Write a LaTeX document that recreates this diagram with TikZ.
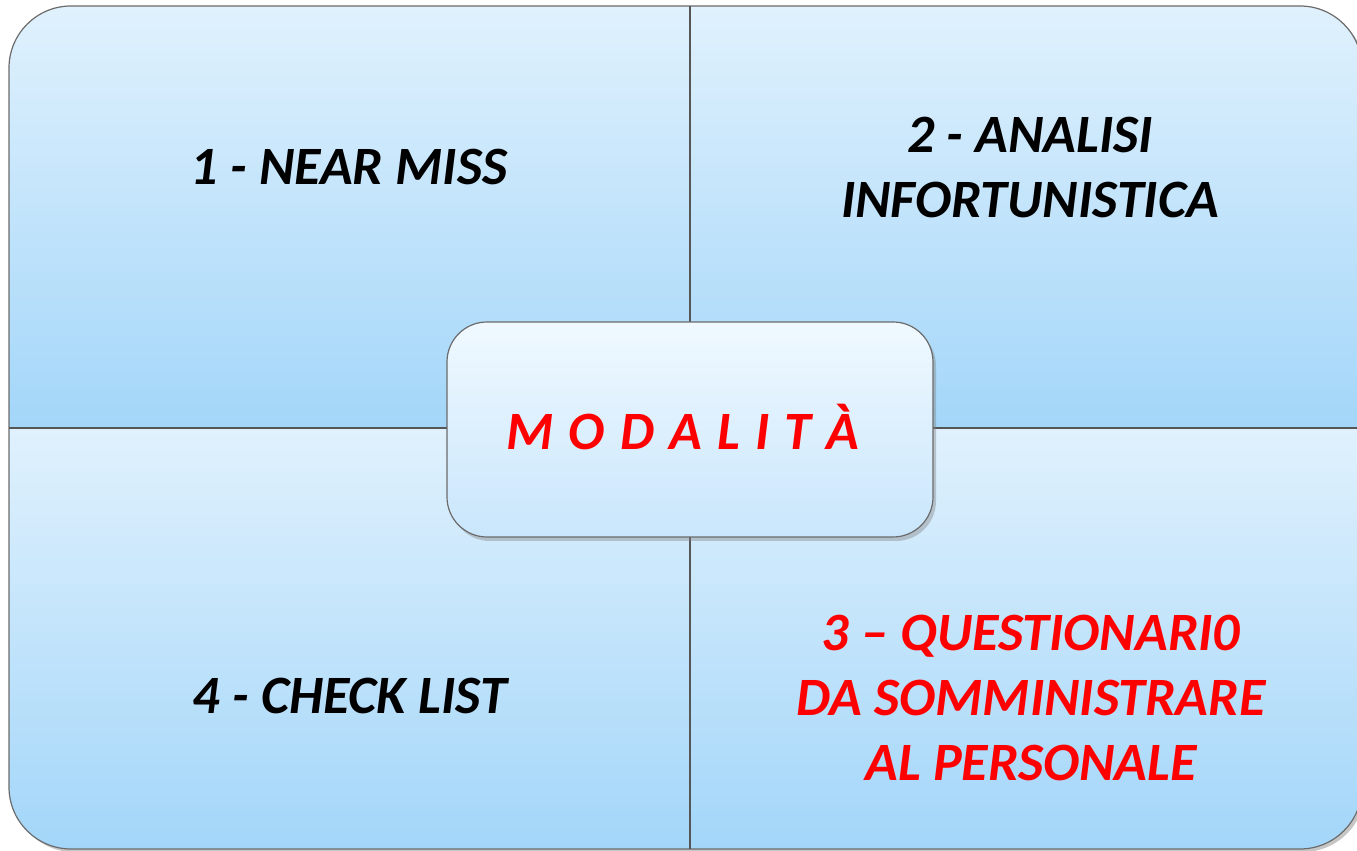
\documentclass[tikz,border=0pt]{standalone}
\usepackage{fontspec}
\setmainfont{Carlito}
\usepackage{xcolor}
\usetikzlibrary{positioning, shadows}

\definecolor{quadtop}{HTML}{E0F1FD}
\definecolor{quadbottom}{HTML}{A3D6F9}
\definecolor{boxtop}{HTML}{F0F9FF}
\definecolor{boxbottom}{HTML}{C9E6FC}
\definecolor{rimgray}{HTML}{6B6B6B}

\tikzset{
  quadrant/.style={shading=axis, top color=quadtop, bottom color=quadbottom},
  quadtext/.style={font=\fontsize{27}{32.5}\selectfont\bfseries\itshape, align=center},
}

\begin{document}
\begin{tikzpicture}[x=0.5pt, y=0.5pt, line width=0.6pt]
    \useasboundingbox (0,0) rectangle (1357,851);

    % --- Outer frame with its shadow ---
    \path[fill=white, rounded corners=31pt,
          drop shadow={shadow xshift=1.5pt, shadow yshift=-1.5pt, opacity=.45}]
        (9,2) rectangle (1362,845);

    % --- Four quadrants, each with its own gradient ---
    \begin{scope}
        \clip[rounded corners=31pt] (9,2) rectangle (1362,845);
        \shade[quadrant] (9,423) rectangle (690,845);
        \shade[quadrant] (690,423) rectangle (1362,845);
        \shade[quadrant] (9,2) rectangle (690,423);
        \shade[quadrant] (690,2) rectangle (1362,423);
    \end{scope}
    \draw[rimgray, rounded corners=31pt] (9,2) rectangle (1362,845);

    % --- Dividers ---
    \draw[rimgray!80!black] (690,2) -- (690,845);
    \draw[rimgray!80!black] (9,423) -- (1362,423);

    % --- Quadrant labels ---
    \node[quadtext] (nearmiss) at (349,684) {1 - NEAR MISS};
    \node[quadtext] (analisi) at (1030,683) {2 - ANALISI\\INFORTUNISTICA};
    \node[quadtext] (checklist) at (350,155) {4 - CHECK LIST};
    \node[quadtext, text=red] (questionario) at (1031,153.5)
        {3 -- QUESTIONARI0\\DA SOMMINISTRARE\\AL PERSONALE};

    % --- Center box ---
    \node[draw=rimgray, rounded corners=20pt, minimum width=243pt, minimum height=107.5pt,
          shading=axis, top color=boxtop, bottom color=boxbottom,
          drop shadow={shadow xshift=1.5pt, shadow yshift=-2pt, opacity=.4},
          quadtext, text=red] (modalita) at (690,421.5)
        {\raisebox{3pt}{\spaceskip=0.28em M O D A L I T À}\hspace*{7pt}};

\end{tikzpicture}
\end{document}
